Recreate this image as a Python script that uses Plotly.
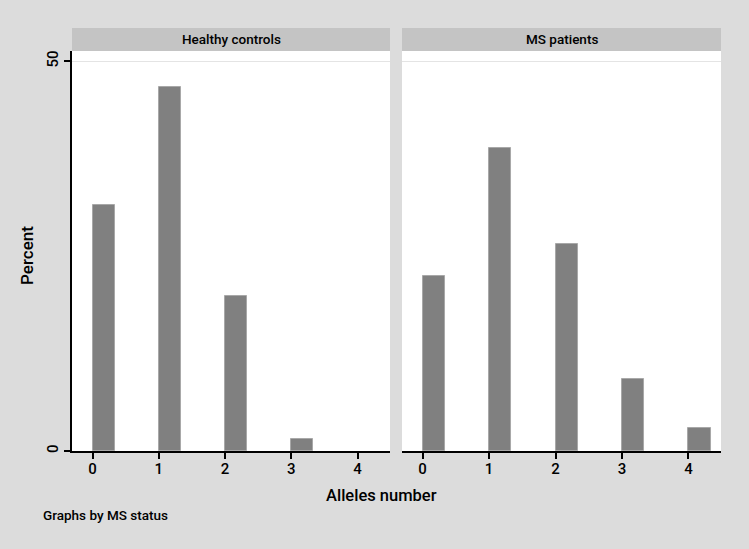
import plotly.graph_objects as go
from plotly.subplots import make_subplots

alleles = [0, 1, 2, 3, 4]
healthy_pct = [31.6, 46.7, 19.9, 1.6, 0.0]
ms_pct = [22.4, 38.8, 26.5, 9.2, 3.0]
panel_titles = ["Healthy controls", "MS patients"]

FONT = "Roboto, Liberation Sans"
W = 500
BG = "#dcdcdc"
STRIP = "#c4c4c4"

fig = make_subplots(rows=1, cols=2, shared_yaxes=True, horizontal_spacing=0.0185)

for col, vals in enumerate([healthy_pct, ms_pct], start=1):
    # no outline on empty bars
    lw = [1 if v > 0 else 0 for v in vals]
    fig.add_trace(go.Bar(x=alleles, y=vals, width=1/3, offset=0,
                         marker=dict(color="#808080", line=dict(color="#a8a8a8", width=lw)),
                         showlegend=False), row=1, col=col)

fig.update_xaxes(range=[-0.31, 4.49], tickvals=alleles,
                 ticks="outside", ticklen=6,
                 tickcolor="black", tickwidth=1.5, showline=True, linecolor="black", linewidth=1.5,
                 showgrid=False, zeroline=False, ticklabelstandoff=-3,
                 tickfont=dict(size=15, color="black", weight=W))
fig.update_layout(xaxis=dict(domain=[0, 0.490]), xaxis2=dict(domain=[0.5085, 1]))

fig.update_yaxes(range=[0, 51.3], tickvals=[0, 50],
                 showgrid=True, gridcolor="#e4e4e4",
                 gridwidth=1, zeroline=False, tickfont=dict(size=15, color="black", weight=W))
fig.update_yaxes(ticks="outside", ticklen=6, tickcolor="black", tickwidth=1.5, tickangle=-90,
                 showline=True, linecolor="black", linewidth=1.5, row=1, col=1)
fig.update_yaxes(showticklabels=False, ticks="", showline=False, row=1, col=2)

shapes = []
annotations = []
for i, title in enumerate(panel_titles):
    xref = "x domain" if i == 0 else "x2 domain"
    shapes.append(dict(type="rect", xref=xref, yref="paper", x0=0, x1=1, y0=1.0, y1=1.0575,
                       fillcolor=STRIP, line=dict(width=0), layer="below"))
    annotations.append(dict(text=title, xref=xref, yref="paper", x=0.5, y=1.0288,
                            xanchor="center", yanchor="middle",
                            showarrow=False, font=dict(size=13.5, color="black", weight=W)))

annotations.append(dict(text="Percent", xref="paper", yref="paper", x=-0.0695, y=0.49,
                        xanchor="center", yanchor="middle",
                        textangle=-90, showarrow=False, font=dict(size=17, color="black", weight=W)))
annotations.append(dict(text="Alleles number", xref="paper", yref="paper", x=0.4775, y=-0.11,
                        xanchor="center", yanchor="middle",
                        showarrow=False, font=dict(size=16.5, color="black", weight=W)))
annotations.append(dict(text="Graphs by MS status", xref="paper", yref="paper", x=-0.048, y=-0.16,
                        xanchor="left", yanchor="middle",
                        showarrow=False, font=dict(size=13.5, color="black", weight=W)))

fig.update_layout(
    width=749, height=549,
    margin=dict(l=72, r=28, t=51, b=98),
    paper_bgcolor=BG, plot_bgcolor="white",
    font=dict(family=FONT, color="black"),
    shapes=shapes, annotations=annotations,
    bargap=0,
)

fig.write_html("out.html", config={"displayModeBar": False},
               post_script="document.body.style.margin='0';document.body.style.overflow='hidden';")
